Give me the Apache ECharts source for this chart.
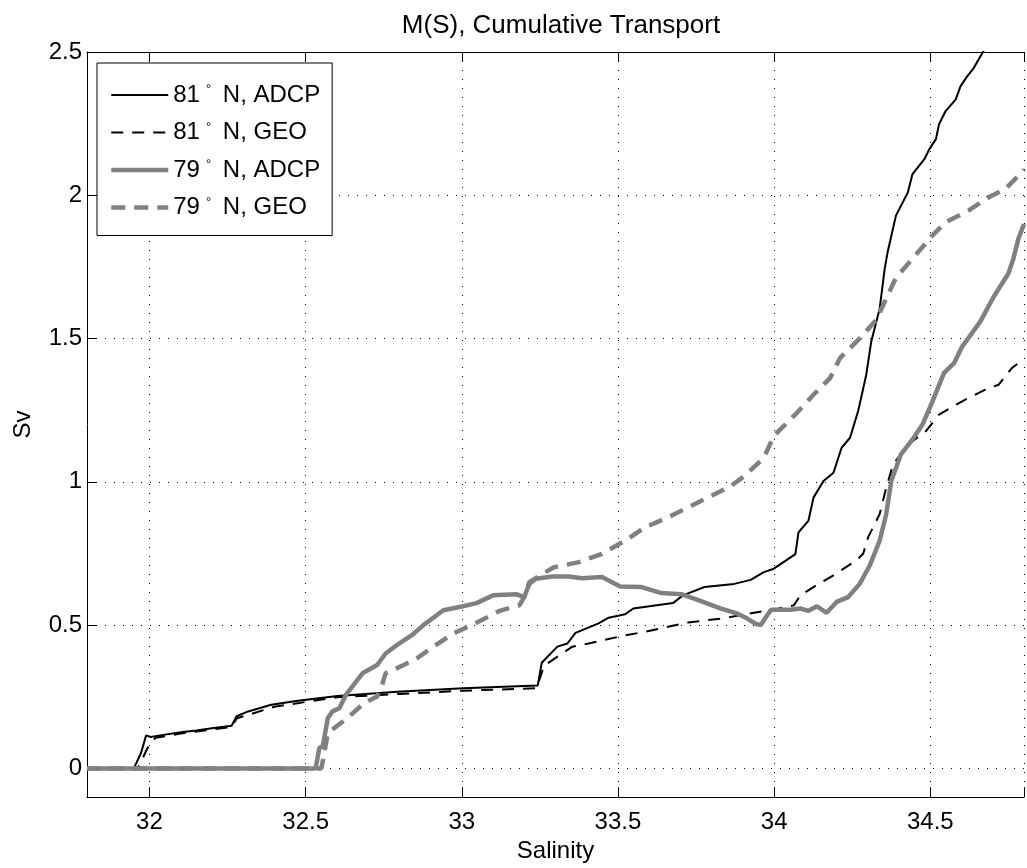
<!DOCTYPE html>
<html>
<head>
<meta charset="utf-8">
<script src="https://cdn.jsdelivr.net/npm/echarts@6/dist/echarts.min.js"></script>
<style>
  html, body { margin: 0; padding: 0; background: #fff; }
  #chart { width: 1027px; height: 868px; }
</style>
</head>
<body>
<div id="chart"></div>
<script>
//----------------------Data----------------------
// salinity, Sv
let adcp81 = [
    [31.8,0],[31.95,0],[31.973,0.054],[31.989,0.115],[32.004,0.11],[32.05,0.118],[32.1,0.126],
    [32.15,0.132],[32.2,0.14],[32.263,0.149],[32.279,0.182],[32.316,0.199],[32.39,0.222],
    [32.475,0.236],[32.602,0.253],[32.793,0.268],[33.004,0.28],[33.243,0.289],[33.256,0.369],
    [33.306,0.425],[33.338,0.436],[33.364,0.473],[33.438,0.506],[33.47,0.526],[33.523,0.538],
    [33.549,0.558],[33.676,0.577],[33.708,0.604],[33.777,0.633],[33.872,0.644],[33.925,0.658],
    [33.967,0.685],[33.999,0.697],[34.068,0.748],[34.078,0.824],[34.11,0.865],[34.126,0.945],
    [34.158,1.003],[34.19,1.032],[34.216,1.119],[34.243,1.154],[34.269,1.247],[34.295,1.374],
    [34.311,1.49],[34.338,1.605],[34.354,1.744],[34.364,1.805],[34.39,1.929],[34.428,2.01],
    [34.443,2.074],[34.481,2.126],[34.497,2.161],[34.518,2.196],[34.528,2.248],[34.549,2.294],
    [34.581,2.334],[34.597,2.381],[34.618,2.415],[34.639,2.444],[34.668,2.499],[34.7,2.56]
];
let geo81 = [
    [31.8,0],[31.962,0],[31.98,0.04],[32.0,0.085],[32.02,0.107],[32.1,0.122],[32.2,0.136],
    [32.262,0.145],[32.28,0.175],[32.4,0.215],[32.5,0.232],[32.6,0.248],[32.8,0.26],[33.0,0.271],
    [33.24,0.28],[33.263,0.358],[33.354,0.425],[33.406,0.436],[33.512,0.462],[33.586,0.477],
    [33.724,0.509],[33.83,0.523],[33.941,0.544],[34.0,0.555],[34.063,0.569],[34.084,0.604],
    [34.126,0.633],[34.19,0.674],[34.263,0.726],[34.285,0.749],[34.301,0.807],[34.338,0.888],
    [34.359,0.98],[34.381,1.061],[34.422,1.119],[34.443,1.142],[34.486,1.177],[34.528,1.235],
    [34.602,1.281],[34.676,1.322],[34.719,1.339],[34.761,1.397],[34.8,1.43]
];
let adcp79 = [
    [31.8,0],[32.532,0],[32.544,0.072],[32.555,0.077],[32.571,0.176],[32.586,0.199],[32.608,0.21],
    [32.629,0.257],[32.682,0.332],[32.729,0.361],[32.756,0.401],[32.793,0.431],[32.84,0.465],
    [32.877,0.5],[32.941,0.552],[33.004,0.566],[33.047,0.577],[33.1,0.604],[33.174,0.608],
    [33.2,0.598],[33.216,0.644],[33.237,0.662],[33.29,0.67],[33.343,0.67],[33.385,0.664],
    [33.449,0.668],[33.507,0.635],[33.576,0.633],[33.639,0.612],[33.703,0.608],[33.766,0.584],
    [33.83,0.558],[33.883,0.54],[33.914,0.523],[33.94,0.505],[33.957,0.5],[33.975,0.53],
    [33.99,0.554],[34.052,0.554],[34.084,0.558],[34.11,0.55],[34.137,0.566],[34.168,0.543],
    [34.2,0.581],[34.237,0.598],[34.274,0.644],[34.306,0.708],[34.338,0.795],[34.359,0.888],
    [34.375,1.003],[34.406,1.096],[34.443,1.148],[34.475,1.2],[34.507,1.281],[34.544,1.38],
    [34.576,1.414],[34.602,1.472],[34.66,1.559],[34.703,1.646],[34.75,1.727],[34.766,1.779],
    [34.782,1.848],[34.8,1.9]
];
let geo79 = [
    [31.8,0],[32.55,0],[32.555,0.025],[32.571,0.124],[32.592,0.141],[32.634,0.176],[32.687,0.228],
    [32.729,0.251],[32.745,0.292],[32.756,0.332],[32.814,0.361],[32.856,0.384],[32.909,0.425],
    [32.973,0.471],[33.047,0.508],[33.121,0.55],[33.184,0.569],[33.2,0.598],[33.216,0.65],
    [33.258,0.679],[33.295,0.702],[33.375,0.72],[33.449,0.749],[33.523,0.795],[33.586,0.841],
    [33.66,0.876],[33.735,0.917],[33.809,0.957],[33.862,0.986],[33.904,1.02],[33.967,1.084],
    [33.999,1.16],[34.073,1.241],[34.126,1.304],[34.179,1.362],[34.211,1.432],[34.274,1.501],
    [34.327,1.565],[34.359,1.64],[34.39,1.712],[34.443,1.779],[34.507,1.86],[34.549,1.906],
    [34.623,1.947],[34.687,1.993],[34.74,2.022],[34.772,2.057],[34.8,2.09]
];
let x_ticks = [32, 32.5, 33, 33.5, 34, 34.5];
let y_ticks = [0, 0.5, 1, 1.5, 2, 2.5];
let series_names = ["81° N, ADCP", "81° N, GEO", "79° N, ADCP", "79° N, GEO"];

//--------------------Chart--------------------
let chart = echarts.init(document.getElementById("chart"));
let font = "'Liberation Sans', Arial, Helvetica, sans-serif";

function on_tick(list, v) {
    return list.some(function (t) { return Math.abs(t - v) < 1e-6; });
}

let grid_line = {show: true, lineStyle: {color: '#000', width: 1, type: [1, 8]}};

let x_bottom = {
    type: 'value', min: 31.8, max: 34.8, splitNumber: 6,
    position: 'bottom',
    axisLine: {show: true, onZero: false, lineStyle: {color: '#000', width: 1}},
    axisTick: {show: true, inside: true, length: 10, lineStyle: {color: '#000'}},
    axisLabel: {
        color: '#000', fontSize: 24, fontFamily: font, margin: 13,
        formatter: function (v) { return on_tick(x_ticks, v) ? String(v) : ''; }
    },
    splitLine: grid_line,
    name: 'Salinity', nameLocation: 'middle', nameGap: 40,
    nameTextStyle: {color: '#000', fontSize: 24, fontFamily: font}
};
let x_top = {
    type: 'value', min: 31.8, max: 34.8, splitNumber: 6,
    position: 'top',
    axisLine: {show: true, onZero: false, lineStyle: {color: '#000', width: 1}},
    axisTick: {show: true, inside: true, length: 10, lineStyle: {color: '#000'}},
    axisLabel: {show: false},
    splitLine: {show: false}
};
let y_left = {
    type: 'value', min: -0.1, max: 2.5, splitNumber: 5,
    axisLine: {show: true, onZero: false, lineStyle: {color: '#000', width: 1}},
    axisTick: {show: true, inside: true, length: 10, lineStyle: {color: '#000'}},
    axisLabel: {
        color: '#000', fontSize: 24, fontFamily: font, margin: 5,
        formatter: function (v) { return on_tick(y_ticks, v) ? String(v) : ''; }
    },
    splitLine: grid_line,
    name: 'Sv', nameLocation: 'middle', nameGap: 52,
    nameTextStyle: {color: '#000', fontSize: 24, fontFamily: font}
};

let line_styles = [
    {color: '#000', width: 2, type: 'solid'},
    {color: '#000', width: 2, type: [12, 9]},
    {color: '#808080', width: 4.5, type: 'solid'},
    {color: '#808080', width: 4.5, type: [14, 9]}
];
let series_data = [adcp81, geo81, adcp79, geo79];

let series_list = [];
let legend_list = [];
for (let i = 0; i < series_names.length; i++) {
    series_list.push({
        name: series_names[i], type: 'line', data: series_data[i],
        symbol: 'none', showSymbol: false, smooth: false,
        lineStyle: line_styles[i],
        itemStyle: {color: line_styles[i].color},
        emphasis: {disabled: true},
        z: 3
    });
    legend_list.push({
        name: series_names[i],
        lineStyle: line_styles[i],
        itemStyle: {opacity: 0}
    });
}

let legend = {
    data: legend_list,
    orient: 'vertical',
    left: 97, top: 63,
    backgroundColor: '#fff',
    borderColor: '#000', borderWidth: 1,
    padding: [20, 12, 16, 12],
    itemWidth: 57, itemHeight: 14, itemGap: 13.5,
    itemStyle: {opacity: 0},
    formatter: function (name) {
        let parts = name.split('°');
        return '{n|' + parts[0] + '}{d|°}{n|' + parts[1] + '}';
    },
    textStyle: {
        color: '#000', fontFamily: font, fontSize: 24,
        rich: {
            n: {fontSize: 24, fontFamily: font, color: '#000', lineHeight: 24},
            d: {fontSize: 13, fontFamily: font, color: '#000', verticalAlign: 'top', padding: [0, 5, 0, 6], lineHeight: 24}
        }
    },
    selectedMode: false
};

let option = {
    backgroundColor: '#fff',
    animation: false,
    title: {
        text: 'M(S), Cumulative Transport',
        left: 561, top: 13, textAlign: 'center', padding: 0,
        textStyle: {color: '#000', fontSize: 26, fontWeight: 'normal', fontFamily: font}
    },
    grid: {left: 87, top: 52, width: 949, height: 749, containLabel: false},
    xAxis: [x_bottom, x_top],
    yAxis: [y_left],
    legend: legend,
    series: series_list
};
chart.setOption(option, true);
</script>
</body>
</html>
